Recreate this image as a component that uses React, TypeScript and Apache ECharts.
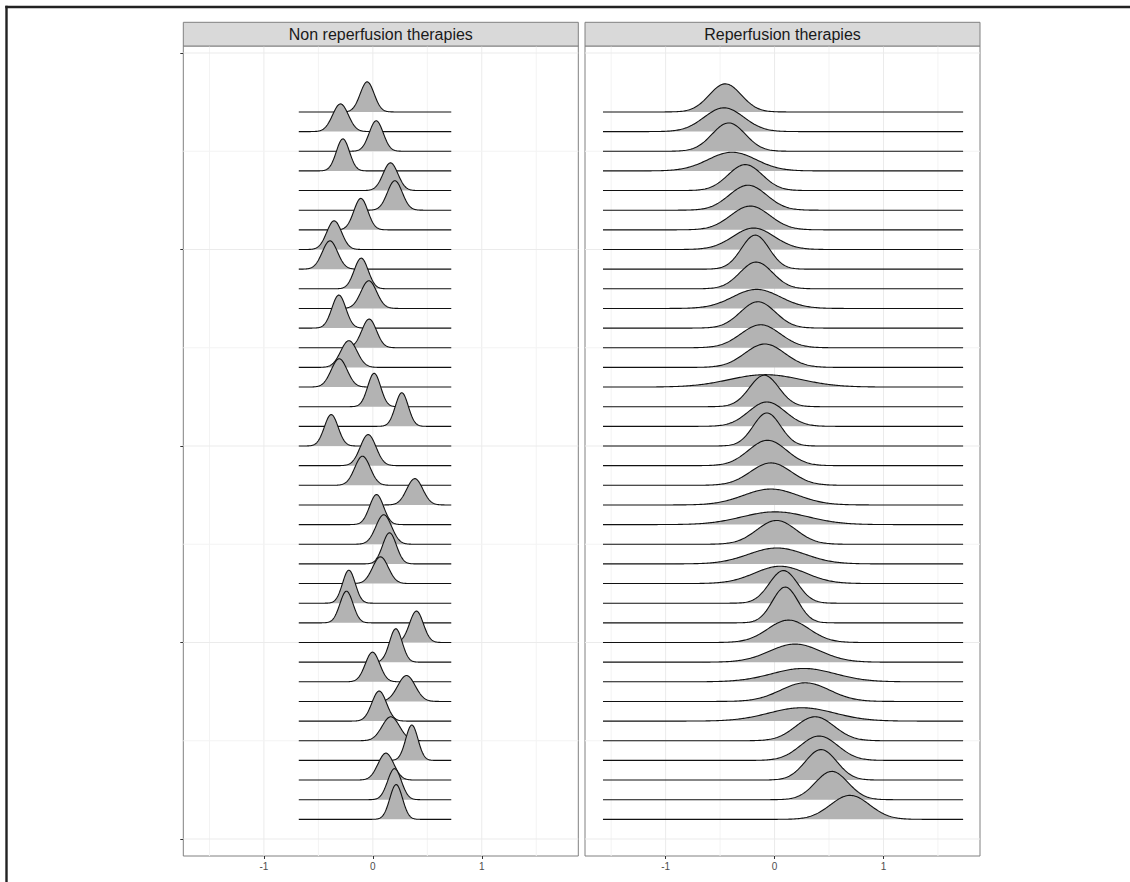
import React, { useEffect, useRef } from "react";
import * as echarts from "echarts";

const PANEL_TITLES = ["Non reperfusion therapies", "Reperfusion therapies"];

// Ridges listed from the bottom ridge (1) to the top ridge (37)
const nonReperfMean = [0.214, 0.199, 0.12, 0.358, 0.165, 0.058, 0.309, -0.003, 0.211, 0.4, -0.242, -0.22, 0.07, 0.153, 0.1, 0.034, 0.385, -0.095, -0.043, -0.382, 0.266, 0.012, -0.309, -0.22, -0.034, -0.312, -0.037, -0.107, -0.394, -0.355, -0.11, 0.202, 0.162, -0.275, 0.031, -0.297, -0.052];
const nonReperfSd = [0.058, 0.063, 0.072, 0.056, 0.08, 0.067, 0.08, 0.066, 0.058, 0.063, 0.06, 0.058, 0.072, 0.063, 0.072, 0.064, 0.073, 0.071, 0.072, 0.063, 0.059, 0.059, 0.073, 0.075, 0.067, 0.064, 0.072, 0.064, 0.07, 0.068, 0.064, 0.068, 0.068, 0.06, 0.064, 0.072, 0.064];
const nonReperfHeight = [1.77, 1.58, 1.37, 1.8, 1.22, 1.53, 1.32, 1.51, 1.7, 1.6, 1.61, 1.68, 1.36, 1.58, 1.5, 1.53, 1.34, 1.48, 1.58, 1.6, 1.71, 1.7, 1.44, 1.36, 1.46, 1.68, 1.41, 1.56, 1.44, 1.46, 1.6, 1.5, 1.41, 1.63, 1.55, 1.41, 1.53];
const nonReperfRange = [-0.68, 0.72];

const reperfMean = [0.693, 0.525, 0.427, 0.409, 0.372, 0.25, 0.281, 0.266, 0.189, 0.128, 0.098, 0.082, 0.052, 0.021, 0.018, 0.006, -0.034, -0.034, -0.064, -0.07, -0.07, -0.095, -0.085, -0.089, -0.128, -0.153, -0.165, -0.168, -0.177, -0.192, -0.223, -0.244, -0.269, -0.39, -0.421, -0.464, -0.452];
const reperfSd = [0.18, 0.15, 0.145, 0.172, 0.176, 0.3, 0.225, 0.29, 0.235, 0.19, 0.118, 0.13, 0.235, 0.26, 0.18, 0.305, 0.25, 0.187, 0.175, 0.126, 0.168, 0.135, 0.33, 0.183, 0.181, 0.161, 0.218, 0.15, 0.128, 0.19, 0.18, 0.172, 0.157, 0.22, 0.152, 0.182, 0.147];
const reperfHeight = [1.22, 1.44, 1.55, 1.24, 1.22, 0.68, 0.95, 0.68, 0.92, 1.14, 1.82, 1.66, 0.88, 0.81, 1.21, 0.65, 0.81, 1.14, 1.29, 1.68, 1.24, 1.6, 0.63, 1.19, 1.17, 1.34, 0.97, 1.36, 1.73, 1.09, 1.21, 1.27, 1.32, 0.95, 1.44, 1.21, 1.43];
const reperfRange = [-1.575, 1.731];

const xTicks = [-1, 0, 1];
const xMinor = [-1.5, -0.5, 0.5, 1.5];
const yTicks = [0, 10, 20, 30, 40];
const yMinor = [5, 15, 25, 35];

const X_MIN = -1.74;
const X_MAX = 1.886;
const Y_MIN = -0.865;
const Y_MAX = 40.356;

const FONT = '"Liberation Sans", Arial, Helvetica, sans-serif';

function ridgeSeries(gi: number, means: number[], sds: number[], heights: number[], range: number[]) {
  const data: number[][] = [];
  for (let i = means.length - 1; i >= 0; i--) data.push([means[i], i + 1, sds[i], heights[i]]);
  return {
    type: "custom",
    xAxisIndex: gi,
    yAxisIndex: gi,
    z: 3,
    silent: true,
    encode: { x: 0, y: 1 },
    data,
    renderItem: (params: any, api: any) => {
      const mu = api.value(0);
      const base = api.value(1);
      const sd = api.value(2);
      const h = api.value(3);
      const N = 300;
      const pts: number[][] = [];
      for (let j = 0; j <= N; j++) {
        const x = range[0] + ((range[1] - range[0]) * j) / N;
        const z = (x - mu) / sd;
        pts.push(api.coord([x, base + h * Math.exp(-0.5 * z * z)]));
      }
      const bEnd = api.coord([range[1], base]);
      const bStart = api.coord([range[0], base]);
      const order = 40 - base;
      return {
        type: "group",
        children: [
          {
            type: "polygon",
            z2: order * 2,
            shape: { points: [...pts, bEnd, bStart] },
            style: { fill: "#b3b3b3", stroke: null, lineWidth: 0 },
          },
          {
            type: "polyline",
            z2: order * 2 + 1,
            shape: { points: pts },
            style: { fill: null, stroke: "#111111", lineWidth: 1.1 },
          },
        ],
      };
    },
  };
}

function gridLineSeries(gi: number) {
  const data: number[][] = [
    ...xTicks.map((v) => [v, 0]),
    ...xMinor.map((v) => [v, 1]),
    ...yTicks.map((v) => [v, 2]),
    ...yMinor.map((v) => [v, 3]),
  ];
  return {
    type: "custom",
    xAxisIndex: gi,
    yAxisIndex: gi,
    z: 1,
    silent: true,
    data,
    renderItem: (params: any, api: any) => {
      const v = api.value(0);
      const t = api.value(1);
      let p1, p2;
      if (t < 2) {
        p1 = api.coord([v, Y_MIN]);
        p2 = api.coord([v, Y_MAX]);
      } else {
        p1 = api.coord([X_MIN, v]);
        p2 = api.coord([X_MAX, v]);
      }
      return {
        type: "line",
        shape: { x1: p1[0], y1: p1[1], x2: p2[0], y2: p2[1] },
        style: { stroke: t % 2 === 0 ? "#ebebeb" : "#f3f3f3", lineWidth: 1 },
      };
    },
  };
}

const PANEL_LEFT = [183.3, 585];
const PANEL_W = 395;
const PANEL_TOP = 46;
const PANEL_H = 810;

export default function App() {
  const ref = useRef<HTMLDivElement>(null);
  useEffect(() => {
    if (!ref.current) return;
    const chart = echarts.init(ref.current, null, { renderer: "svg" });
    const grids = PANEL_LEFT.map((l) => ({
      left: l,
      top: PANEL_TOP,
      width: PANEL_W,
      height: PANEL_H,
      show: true,
      borderColor: "#808080",
      borderWidth: 1,
      backgroundColor: "#ffffff",
      containLabel: false,
      outerBoundsMode: "none",
    }));
    const xAxes = [0, 1].map((gi) => ({
      type: "value",
      gridIndex: gi,
      position: "bottom",
      min: X_MIN,
      max: X_MAX,
      axisLine: { show: false, onZero: false },
      axisTick: { show: true, inside: false, customValues: xTicks, length: 3, lineStyle: { color: "#333333", width: 1 } },
      axisLabel: { show: true, customValues: xTicks, color: "#4d4d4d", fontSize: 10, margin: 5, fontFamily: FONT },
      splitLine: { show: false },
    }));
    const yAxes = [0, 1].map((gi) => ({
      type: "value",
      gridIndex: gi,
      position: "left",
      min: Y_MIN,
      max: Y_MAX,
      axisLine: { show: false, onZero: false },
      axisTick: gi === 0
        ? { show: true, inside: false, customValues: yTicks, length: 3, lineStyle: { color: "#333333", width: 1 } }
        : { show: false },
      axisLabel: { show: false },
      splitLine: { show: false },
    }));
    const graphic: any[] = [];
    PANEL_TITLES.forEach((t, i) => {
      graphic.push({
        type: "rect",
        shape: { x: PANEL_LEFT[i], y: 22.3, width: PANEL_W, height: PANEL_TOP - 22.3 },
        style: { fill: "#d9d9d9", stroke: "#808080", lineWidth: 1 },
        z: 10,
      });
      graphic.push({
        type: "text",
        x: PANEL_LEFT[i] + PANEL_W / 2,
        y: (22.3 + PANEL_TOP) / 2 + 0.5,
        style: {
          text: t,
          fill: "#1a1a1a",
          fontSize: 16,
          fontFamily: FONT,
          align: "center",
          verticalAlign: "middle",
          textAlign: "center",
          textVerticalAlign: "middle",
        },
        z: 11,
      });
    });
    graphic.push({
      type: "line",
      shape: { x1: 5.3, y1: 7, x2: 1130, y2: 7 },
      style: { stroke: "#222222", lineWidth: 2.4 },
      z: 20,
    });
    graphic.push({
      type: "line",
      shape: { x1: 6.5, y1: 5.8, x2: 6.5, y2: 882 },
      style: { stroke: "#222222", lineWidth: 2.4 },
      z: 20,
    });

    chart.setOption({
      animation: false,
      backgroundColor: "#ffffff",
      grid: grids,
      xAxis: xAxes,
      yAxis: yAxes,
      graphic,
      series: [
        gridLineSeries(0),
        gridLineSeries(1),
        ridgeSeries(0, nonReperfMean, nonReperfSd, nonReperfHeight, nonReperfRange),
        ridgeSeries(1, reperfMean, reperfSd, reperfHeight, reperfRange),
      ],
    });
    return () => chart.dispose();
  }, []);
  return (
    <div
      ref={ref}
      style={{ position: "absolute", left: 0, top: 0, width: 1130, height: 882, background: "#fff" }}
    />
  );
}
